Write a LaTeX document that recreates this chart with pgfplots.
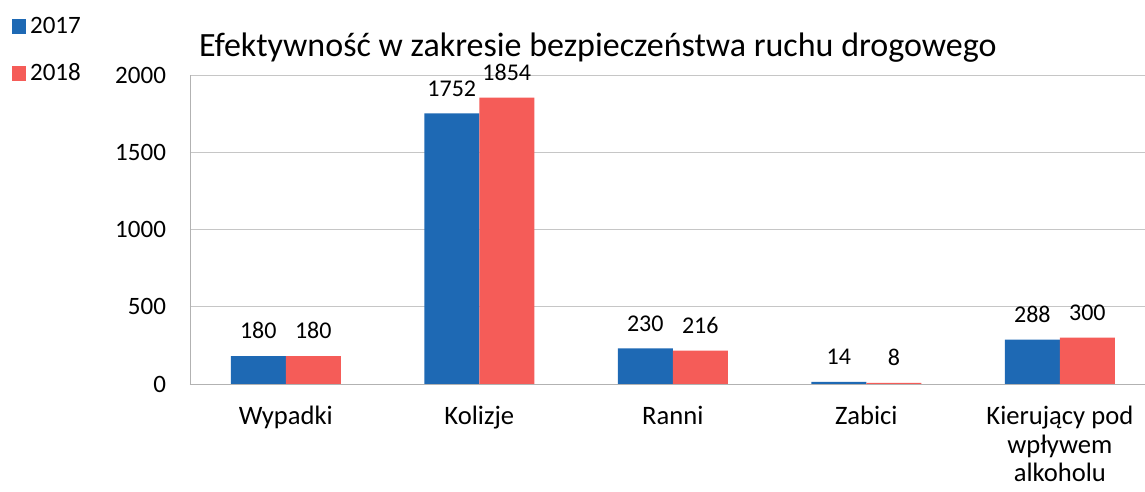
\documentclass[border=0pt]{standalone}
\usepackage{pgfplots}
\pgfplotsset{compat=1.18}
\usepackage{fontspec}
\setmainfont{Carlito}
\definecolor{cblue}{RGB}{30,105,180}
\definecolor{cred}{RGB}{245,92,88}
\begin{document}
\begin{tikzpicture}
\useasboundingbox (-95pt,-54pt) rectangle (477.5pt,192pt);
\begin{axis}[
  at={(0pt,0pt)}, anchor=south west,
  scale only axis, width=477.5pt, height=154.5pt,
  ybar=0pt, bar width=27.5pt,
  xmin=-0.495, xmax=4.44,
  ymin=0, ymax=2000,
  ytick={0,500,1000,1500,2000},
  xtick={0,1,2,3,4},
  xticklabels={Wypadki,Kolizje,Ranni,Zabici,{Kierujący pod\\wpływem\\alkoholu}},
  xticklabel style={align=center, font=\fontsize{13.3}{14.3}\selectfont, yshift=-7.5pt},
  yticklabel style={font=\fontsize{12.5}{15}\selectfont, xshift=-8.5pt},
  /pgf/number format/assume math mode=true,
  /pgf/number format/1000 sep={},
  major tick length=0pt,
  axis x line*=bottom, axis y line*=left,
  axis line style={gray!60, -},
  ymajorgrids, grid style={gray!45},
  clip=false,
  nodes near coords,
  every node near coord/.append style={font=\fontsize{12}{14}\selectfont, black, yshift=5pt},
  legend style={at={(rel axis cs:-0.193,1.215)}, anchor=north west, draw=none, fill=none,
    font=\fontsize{12.5}{15}\selectfont, row sep=9.5pt, cells={anchor=west}},
  legend image code/.code={\fill[#1] (0pt,-3.7pt) rectangle (7pt,3.7pt);},
]
\addplot[fill=cblue, draw=none] coordinates {(0,180) (1,1752) (2,230) (3,14) (4,288)};
\addplot[fill=cred, draw=none] coordinates {(0,180) (1,1854) (2,216) (3,8) (4,300)};
\legend{2017,2018}
\node[anchor=base, font=\fontsize{17}{20}\selectfont] at (rel axis cs:0.427,1.06) {Efektywność w zakresie bezpieczeństwa ruchu drogowego};
\end{axis}
\end{tikzpicture}
\end{document}
